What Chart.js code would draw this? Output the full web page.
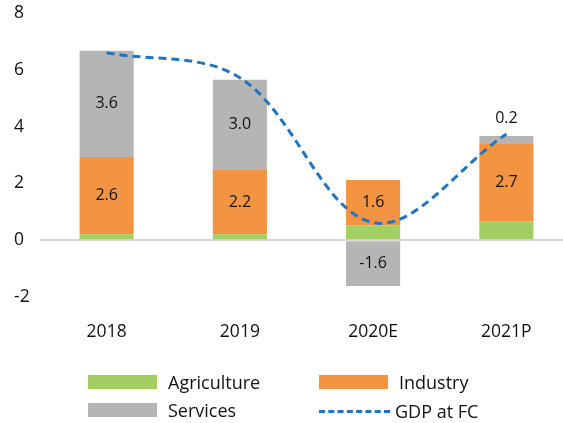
<!DOCTYPE html>
<html>
<head>
<meta charset="utf-8">
<script src="https://cdn.jsdelivr.net/npm/chart.js@4.4.1/dist/chart.umd.min.js"></script>
<style>
  html, body { margin: 0; padding: 0; background: #fff; overflow: hidden; }
  #wrap { position: relative; width: 573px; height: 350px; }
  #legend { position: absolute; left: 0; top: 0; width: 563px; height: 423px; pointer-events: none;
    font-family: "Open Sans", sans-serif; font-size: 18px; color: #111; }
  .item { position: absolute; display: flex; align-items: center; height: 20px; }
  .sw { width: 69px; height: 14px; margin-right: 11px; }
  .dash { width: 71px; height: 0; border-top: 3px dashed #2074c0; margin-right: 5px; }
</style>
</head>
<body>
<div id="wrap"><canvas id="myChart"></canvas></div>
<div id="legend"></div>
<script>
const categories = ["2018", "2019", "2020E", "2021P"];
const agriculture = [0.21, 0.21, 0.53, 0.65];
const industry = [2.72, 2.26, 1.59, 2.74];
const services = [3.74, 3.18, -1.61, 0.28];
const gdpAtFC = [6.6, 5.72, 0.62, 3.74];
// labels as printed on the bars
const industryLabels = ["2.6", "2.2", "1.6", "2.7"];
const servicesLabels = ["3.6", "3.0", "-1.6", "0.2"];
const yTicks = [-2, 0, 2, 4, 6, 8];

const green = "#a3cf62";
const orange = "#f29441";
const grey = "#b4b5b4";
const blue = "#2074c0";

// draws the numbers inside the bars (above when the bar is too thin)
const barLabels = {
  id: "barLabels",
  afterDatasetsDraw(chart) {
    const ctx = chart.ctx;
    ctx.save();
    ctx.font = "16px 'Open Sans', sans-serif";
    ctx.fillStyle = "#111";
    ctx.textAlign = "center";
    ctx.textBaseline = "middle";
    chart.data.datasets.forEach((ds, i) => {
      if (!ds.printed) return;
      chart.getDatasetMeta(i).data.forEach((bar, j) => {
        const top = Math.min(bar.y, bar.base);
        const h = Math.abs(bar.base - bar.y);
        const y = h < 20 ? top - 18 : (bar.y + bar.base) / 2;
        ctx.fillText(ds.printed[j], bar.x, y);
      });
    });
    ctx.restore();
  }
};

const config = {
  type: "bar",
  data: {
    labels: categories,
    datasets: [
      { label: "Agriculture", data: agriculture, backgroundColor: green, order: 1 },
      { label: "Industry", data: industry, backgroundColor: orange, printed: industryLabels, order: 1 },
      { label: "Services", data: services, backgroundColor: grey, printed: servicesLabels, order: 1 },
      {
        type: "line",
        label: "GDP at FC",
        data: gdpAtFC,
        stack: "gdp",
        borderColor: blue,
        borderWidth: 3,
        borderDash: [8, 5],
        pointRadius: 0,
        tension: 0.35,
        fill: false,
        order: 0,
      },
    ],
  },
  options: {
    responsive: true,
    maintainAspectRatio: false,
    animation: false,
    layout: { padding: { top: 13, left: 14, right: 0, bottom: 0 } },
    plugins: { legend: { display: false }, tooltip: { enabled: false } },
    datasets: { bar: { categoryPercentage: 1, barPercentage: 0.406 } },
    scales: {
      x: {
        stacked: true,
        grid: { display: false, drawTicks: false },
        border: { display: false },
        ticks: { color: "#111", padding: 25, font: { family: "Open Sans", size: 17.5 } },
        afterFit: (s) => { s.height = 53; s.paddingLeft = 0; s.paddingRight = 0; },
      },
      y: {
        stacked: true,
        min: -2,
        max: 8,
        afterBuildTicks: (s) => { s.ticks = yTicks.map((v) => ({ value: v })); },
        grid: {
          drawTicks: false,
          lineWidth: 2,
          color: (c) => (c.tick && c.tick.value === 0 ? "#d9d9d9" : "rgba(0,0,0,0)"),
        },
        border: { display: false },
        ticks: {
          color: "#111",
          crossAlign: "far",
          padding: 12,
          font: { family: "Open Sans", size: 17.5 },
        },
        afterFit: (s) => { s.width = 26; s.paddingTop = 0; s.paddingBottom = 0; },
      },
    },
  },
  plugins: [barLabels],
};

const myChart = new Chart(document.getElementById("myChart"), config);

// legend, two columns like the original
const legendItems = [
  { name: "Agriculture", color: green, x: 88, y: 372 },
  { name: "Industry", color: orange, x: 319, y: 372 },
  { name: "Services", color: grey, x: 88, y: 400 },
  { name: "GDP at FC", line: true, x: 319, y: 401 },
];
const legend = document.getElementById("legend");
legendItems.forEach((it) => {
  const d = document.createElement("div");
  d.className = "item";
  d.style.left = it.x + "px";
  d.style.top = it.y + "px";
  const mark = document.createElement("span");
  if (it.line) {
    mark.className = "dash";
  } else {
    mark.className = "sw";
    mark.style.background = it.color;
  }
  d.appendChild(mark);
  const t = document.createElement("span");
  t.textContent = it.name;
  d.appendChild(t);
  legend.appendChild(d);
});
</script>
</body>
</html>
